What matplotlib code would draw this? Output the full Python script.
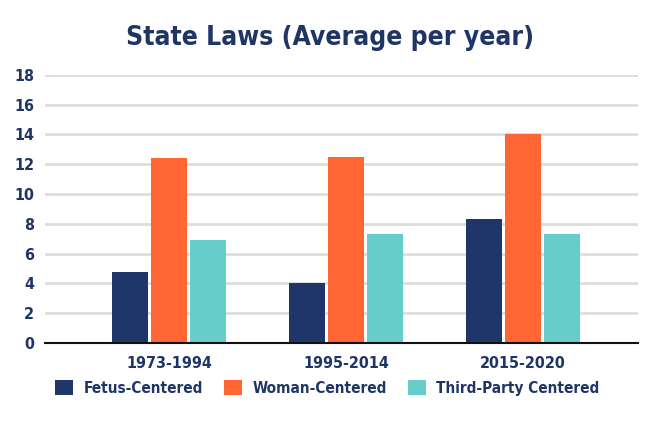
import matplotlib.pyplot as plt
import numpy as np

periods = ['1973-1994', '1995-2014', '2015-2020']
series_names = ['Fetus-Centered', 'Woman-Centered', 'Third-Party Centered']
fetus = [4.8, 4.0, 8.3]
woman = [12.4, 12.5, 14.0]
third = [6.9, 7.3, 7.3]
colors = ['#1f3768', '#ff6633', '#66cdcb']
navy = '#1f3566'

plt.rcParams['font.family'] = ['DejaVu Sans']
plt.rcParams['font.stretch'] = 'condensed'
plt.rcParams['font.weight'] = 'bold'

fig = plt.figure(figsize=(6.64, 4.23), dpi=100)
ax = fig.add_axes([0.068, 0.189, 0.893, 0.634])

x = np.arange(len(periods))
w = 0.205
step = 0.222
for i, (vals, name) in enumerate(zip([fetus, woman, third], series_names)):
    ax.bar(x + (i - 1) * step, vals, width=w, color=colors[i], label=name, zorder=3)

ax.set_ylim(0, 18)
ax.set_xlim(-0.70, 2.65)
ax.set_yticks(range(0, 19, 2))
ax.set_xticks(x)
ax.set_xticklabels(periods)
ax.tick_params(axis='both', length=0, colors=navy, labelsize=11.5)
ax.tick_params(axis='x', pad=9)
ax.tick_params(axis='y', pad=8)
for lbl in ax.get_xticklabels() + ax.get_yticklabels():
    lbl.set_fontweight('bold')
ax.grid(axis='y', color='#dddddd', linewidth=2, zorder=0)
for s in ['top', 'left', 'right']:
    ax.spines[s].set_visible(False)
ax.spines['bottom'].set_color('#111111')
ax.spines['bottom'].set_linewidth(1.5)
ax.spines['bottom'].set_zorder(4)

fig.text(0.497, 0.91, 'State Laws (Average per year)', ha='center', va='center',
         fontsize=19, fontweight='bold', color=navy)

leg = fig.legend(loc='center', bbox_to_anchor=(0.493, 0.083), ncol=3, frameon=False,
                 fontsize=11, handlelength=1.15, handleheight=1.15, columnspacing=1.4,
                 handletextpad=0.7)
for t in leg.get_texts():
    t.set_color(navy)
    t.set_fontweight('bold')

fig.savefig('out.png', dpi=100)
